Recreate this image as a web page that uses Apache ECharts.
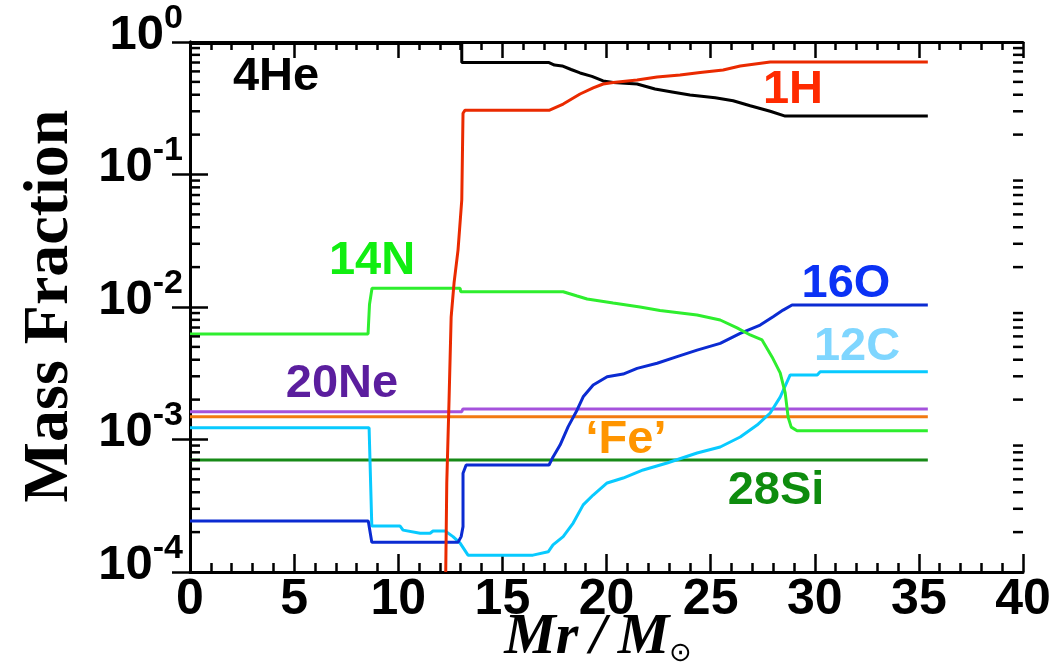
<!DOCTYPE html>
<html>
<head>
<meta charset="utf-8">
<script src="https://cdn.jsdelivr.net/npm/echarts@6/dist/echarts.min.js"></script>
<style>
  html, body { margin: 0; padding: 0; background: #fff; }
  #chart { width: 1052px; height: 667px; }
</style>
</head>
<body>
<div id="chart"></div>
<script>
// Abundance profiles (mass fraction) against enclosed mass Mr / Msun
const he4 = [[0,0.975],[13.05,0.975],[13.05,0.70],[17.24,0.70],[17.5,0.67],[17.87,0.66],[18.3,0.62],[18.73,0.584],[19.3,0.55],[19.84,0.508],[20.32,0.495],[21.47,0.482],[22.33,0.442],[23.15,0.42],[24.01,0.398],[25.22,0.38],[26.08,0.36],[26.9,0.33],[27.86,0.30],[28.58,0.276],[35.43,0.276]];
const h1 = [[12.28,0.0001],[12.33,4.7e-4],[12.44,2.0e-3],[12.54,8.4e-3],[12.68,0.0152],[12.87,0.0269],[13.05,0.0642],[13.11,0.29],[13.2,0.305],[17.24,0.305],[17.92,0.34],[18.73,0.405],[19.36,0.45],[19.84,0.482],[20.32,0.495],[21.47,0.517],[22.43,0.544],[23.53,0.564],[24.5,0.589],[25.6,0.615],[26.42,0.659],[27.86,0.706],[35.43,0.706]];
const n14 = [[0,6.25e-3],[8.55,6.25e-3],[8.62,0.0105],[8.74,0.01384],[12.97,0.01384],[13.0,0.01304],[17.92,0.01304],[18.59,0.0121],[19.07,0.01148],[20.32,0.01072],[21.61,0.0100],[22.57,0.00941],[24.35,0.0087],[25.46,0.00798],[26.27,0.00695],[26.9,0.00615],[27.47,0.00564],[27.95,0.0042],[28.34,0.00318],[28.58,0.00225],[28.72,0.00148],[28.87,0.00124],[29.15,0.001165],[35.43,0.001165]];
const ne20 = [[0,1.62e-3],[13.05,1.62e-3],[13.1,1.70e-3],[35.43,1.70e-3]];
const fe = [[0,1.486e-3],[35.43,1.486e-3]];
const si28 = [[0,7.0e-4],[35.43,7.0e-4]];
const c12 = [[0,1.227e-3],[8.6,1.227e-3],[8.73,2.22e-4],[10.09,2.22e-4],[10.23,2.07e-4],[11.05,1.96e-4],[11.53,1.96e-4],[11.67,2.04e-4],[12.25,2.04e-4],[12.63,1.85e-4],[12.97,1.65e-4],[13.35,1.34e-4],[16.47,1.34e-4],[17.2,1.42e-4],[17.43,1.60e-4],[17.92,1.85e-4],[18.4,2.34e-4],[18.88,3.21e-4],[19.36,3.81e-4],[20.03,4.70e-4],[20.8,5.12e-4],[21.76,5.89e-4],[22.91,6.65e-4],[24.35,7.91e-4],[25.46,8.78e-4],[26.42,1.044e-3],[27.23,1.286e-3],[27.86,1.585e-3],[28.34,2.09e-3],[28.82,3.07e-3],[30.12,3.07e-3],[30.26,3.25e-3],[35.43,3.25e-3]];
const o16 = [[0,2.43e-4],[8.56,2.43e-4],[8.73,1.675e-4],[12.87,1.675e-4],[13.02,1.85e-4],[13.11,2.20e-4],[13.11,5.56e-4],[13.26,6.42e-4],[17.24,6.42e-4],[17.44,7.42e-4],[17.77,9.08e-4],[18.16,1.25e-3],[18.59,1.67e-3],[18.88,2.10e-3],[19.36,2.58e-3],[20.03,2.98e-3],[20.8,3.12e-3],[21.47,3.44e-3],[22.43,3.76e-3],[23.39,4.22e-3],[24.35,4.73e-3],[25.46,5.32e-3],[26.42,6.33e-3],[27.38,7.31e-3],[28.0,8.45e-3],[28.48,9.48e-3],[28.91,1.035e-2],[35.43,1.035e-2]];

// Axis ranges
const xMin = 0, xMax = 40, xStep = 5;
const yMin = 1e-4, yMax = 1;
const decades = [-4, -3, -2, -1];
const minorFactors = [2, 3, 4, 5, 6, 7, 8, 9];

// Log minor ticks at 2..9 x 10^n
const minorTickValues = [];
decades.forEach(e => minorFactors.forEach(k => minorTickValues.push([0, k * Math.pow(10, e)])));

const chart = echarts.init(document.getElementById('chart'));

const lineSeries = (name, data, color, z) => ({
  name, type: 'line', data, showSymbol: false, symbol: 'none', clip: true,
  lineStyle: { color, width: 3 }, z: z || 3, animation: false
});

const tickFont = 'Liberation Sans, Arial, sans-serif';
const labelText = (text, x, y, color) => ({
  type: 'text', x, y,
  style: { text, fill: color, font: 'bold 47px ' + tickFont, align: 'center', verticalAlign: 'middle' }
});

chart.setOption({
  animation: false,
  backgroundColor: '#fff',
  grid: { left: 190, top: 42, right: 29, bottom: 95, containLabel: false, outerBoundsMode: 'none' },
  xAxis: [{
    type: 'value', min: xMin, max: xMax, interval: xStep, position: 'bottom',
    axisLine: { lineStyle: { color: '#000', width: 3 } },
    axisTick: { inside: true, length: 18, lineStyle: { color: '#000', width: 2.5 } },
    minorTick: { show: true, splitNumber: 5, length: 9, lineStyle: { color: '#000', width: 2.5 } },
    splitLine: { show: false },
    axisLabel: { margin: 3, color: '#000', fontFamily: tickFont, fontWeight: 'bold', fontSize: 50 }
  }, {
    type: 'value', min: xMin, max: xMax, interval: xStep, position: 'top',
    axisLine: { lineStyle: { color: '#000', width: 3 } },
    axisTick: { inside: true, length: 16, lineStyle: { color: '#000', width: 2.5 } },
    minorTick: { show: true, splitNumber: 5, length: 8, lineStyle: { color: '#000', width: 2.5 } },
    splitLine: { show: false }, axisLabel: { show: false }
  }],
  yAxis: [{
    type: 'log', logBase: 10, min: yMin, max: yMax, position: 'left',
    axisLine: { lineStyle: { color: '#000', width: 3 } },
    axisTick: { inside: true, length: 18, lineStyle: { color: '#000', width: 2.5 } },
    splitLine: { show: false },
    axisLabel: {
      margin: 7, color: '#000', padding: [0, 0, 14, 0],
      formatter: v => '{b|10}{s|' + Math.round(Math.log10(v)) + '}',
      rich: {
        b: { fontFamily: tickFont, fontWeight: 'bold', fontSize: 49, lineHeight: 67 },
        s: { fontFamily: tickFont, fontWeight: 'bold', fontSize: 34, lineHeight: 34, verticalAlign: 'top' }
      }
    }
  }, {
    type: 'log', logBase: 10, min: yMin, max: yMax, position: 'right',
    axisLine: { lineStyle: { color: '#000', width: 3 } },
    axisTick: { inside: true, length: 18, lineStyle: { color: '#000', width: 2.5 } },
    splitLine: { show: false }, axisLabel: { show: false }
  }],
  series: [
    lineSeries('28Si', si28, '#178a17', 2),
    lineSeries('Fe', fe, '#f27a12', 2),
    lineSeries('20Ne', ne20, '#a552dc', 2),
    lineSeries('12C', c12, '#08caff', 3),
    lineSeries('16O', o16, '#0b2bd2', 3),
    lineSeries('14N', n14, '#2eee2e', 3),
    lineSeries('4He', he4, '#000000', 4),
    lineSeries('1H', h1, '#ea2a00', 4),
    {
      // minor ticks of the logarithmic axes, on both frame sides
      type: 'custom', data: minorTickValues, clip: false, silent: true, z: 10,
      encode: { x: 0, y: 1 },
      renderItem: (params, api) => {
        const v = api.value(1);
        const l = api.coord([xMin, v]);
        const r = api.coord([xMax, v]);
        const st = { stroke: '#000', lineWidth: 2.5 };
        return { type: 'group', children: [
          { type: 'line', shape: { x1: l[0], y1: l[1], x2: l[0] + 10, y2: l[1] }, style: st },
          { type: 'line', shape: { x1: r[0], y1: r[1], x2: r[0] - 10, y2: r[1] }, style: st }
        ] };
      }
    }
  ],
  graphic: [
    labelText('4He', 276, 77, '#000000'),
    labelText('1H', 793, 90, '#ff2a00'),
    labelText('14N', 372, 261, '#11ee11'),
    labelText('20Ne', 342, 384, '#5b1e9e'),
    labelText('\u2018Fe\u2019', 626, 440, '#ff9500'),
    labelText('16O', 846, 284, '#0b32f5'),
    labelText('12C', 857, 347, '#7fd6ff'),
    labelText('28Si', 776, 491, '#0e8c0e'),
    {
      type: 'text', x: 50, y: 306, rotation: Math.PI / 2,
      style: { text: 'Mass Fraction', fill: '#000', font: 'bold 64px "Liberation Serif", "Times New Roman", serif', align: 'center', verticalAlign: 'middle' }
    },
    {
      type: 'text', x: 598, y: 638,
      style: {
        text: '{a|Mr\u2009/\u2009M}{b|\u2299}', align: 'center', verticalAlign: 'middle',
        rich: {
          a: { fill: '#000', font: 'italic bold 58px "Liberation Serif", "Times New Roman", serif', lineHeight: 58 },
          b: { fill: '#000', font: '27px "DejaVu Sans", sans-serif', lineHeight: 27, verticalAlign: 'bottom' }
        }
      }
    }
  ]
});
</script>
</body>
</html>
